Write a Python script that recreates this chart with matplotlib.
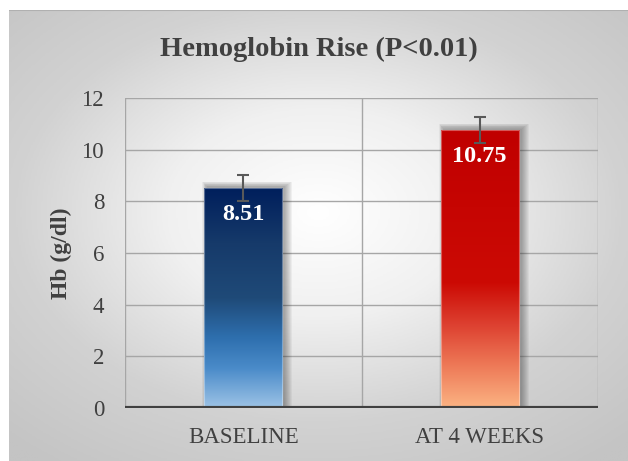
import numpy as np
import matplotlib
matplotlib.use("Agg")
import matplotlib.pyplot as plt
from matplotlib.colors import LinearSegmentedColormap
from matplotlib.patches import Rectangle

categories = ["BASELINE", "AT 4 WEEKS"]
values = [8.51, 10.75]
errors = [0.5, 0.5]
labels = ["8.51", "10.75"]
title = "Hemoglobin Rise (P<0.01)"
ylabel = "Hb (g/dl)"
yticks = [0, 2, 4, 6, 8, 10, 12]

plt.rcParams['font.family'] = ['Liberation Serif', 'DejaVu Serif']

W, H = 628, 461
fig = plt.figure(figsize=(W / 100, H / 100), dpi=100)
fig.patch.set_facecolor("white")

# background radial gradient panel
bg = fig.add_axes([9 / W, 0, 1 - 9 / W, 1 - 10 / H])
bg.set_axis_off()
yy, xx = np.mgrid[-1:1:300j, -1:1:400j]
r = np.sqrt((xx * 0.85) ** 2 + ((yy + 0.1) * 0.9) ** 2)
bgcm = LinearSegmentedColormap.from_list("bg", ["#ffffff", "#f0f0f0", "#d2d2d2", "#c4c4c4"])
bg.imshow(r, cmap=bgcm, aspect="auto", extent=[0, 1, 0, 1], vmin=0, vmax=1.25)
bg.set_xlim(0, 1)
bg.set_ylim(0, 1)
bg.plot([0, 1], [1, 1], color="#b0b0b0", lw=1.5)

ax = fig.add_axes([125 / W, (H - 408) / H, (598 - 125) / W, (408 - 98) / H])
ax.set_facecolor("none")
ax.set_zorder(2)

x = np.arange(len(categories))
width = 0.33
ax.set_xlim(-0.5, 1.5)
ax.set_ylim(0, 12)

for yv in yticks[1:]:
    ax.axhline(yv, color="#a6a6a6", lw=1.0, zorder=0)
for xv in [-0.5, 0.5, 1.5]:
    ax.axvline(xv, color="#a6a6a6", lw=1.0, zorder=0)

cmaps = [
    LinearSegmentedColormap.from_list("blue", [(0, "#9dc3e6"), (0.18, "#4a8bc9"), (0.32, "#2e6fae"), (0.5, "#1f4a78"), (0.75, "#163a6a"), (1, "#001f5c")]),
    LinearSegmentedColormap.from_list("red", [(0, "#fbb383"), (0.15, "#ee7a58"), (0.3, "#dd4030"), (0.45, "#cc0a04"), (1, "#c00000")]),
]

px_x = 2.0 / (598 - 125)   # data units per pixel (x)
px_y = 12.0 / (408 - 98)   # data units per pixel (y)

for i, (v, e) in enumerate(zip(values, errors)):
    x0 = x[i] - width / 2
    # soft shadow (offset right/up, blurred by layering)
    n = 8
    for k in range(n):
        grow = (n - k)
        left = x0 + (3 - grow * 0.6) * px_x
        right = x0 + width + (2 + grow) * px_x
        top = v + (1 + grow * 0.7) * px_y
        ax.add_patch(Rectangle((left, 0), right - left, top,
                               color="#202020", alpha=0.05, lw=0, zorder=1))
    grad = np.linspace(0, 1, 256).reshape(-1, 1)
    im = ax.imshow(grad, cmap=cmaps[i], aspect="auto", origin="lower",
                   extent=[x0, x0 + width, 0, v], zorder=2)
    rect = Rectangle((x0, 0), width, v, facecolor="none", edgecolor="none", zorder=2)
    ax.add_patch(rect)
    im.set_clip_path(rect)
    ax.add_patch(Rectangle((x0, 0), width, v, facecolor="none", edgecolor=(1, 1, 1, 0.35), lw=0.8, zorder=3))
    ax.errorbar(x[i], v, yerr=e, fmt="none", ecolor="#595959", elinewidth=1.5, capsize=4.5, capthick=1.5, zorder=4)
    ax.text(x[i], v - 0.62, labels[i], ha="center", va="top", color="white",
            fontsize=17.5, fontweight="bold", zorder=5)

ax.axhline(0, color="#404040", lw=3, zorder=6)

ax.set_yticks(yticks)
ax.set_yticklabels([str(t) for t in yticks], fontsize=16.5, color="#404040")
ax.set_xticks(x)
ax.set_xticklabels(categories, fontsize=16.5, color="#404040")
ax.tick_params(axis="both", length=0)
ax.tick_params(axis="y", pad=15)
ax.tick_params(axis="x", pad=14)
for s in ax.spines.values():
    s.set_visible(False)

ax.set_ylabel(ylabel, fontsize=17, fontweight="bold", color="#404040", labelpad=7)
fig.text(319 / W, 1 - 49 / H, title, ha="center", va="center",
         fontsize=20.5, fontweight="bold", color="#404040")

fig.savefig("out.png", dpi=100)
